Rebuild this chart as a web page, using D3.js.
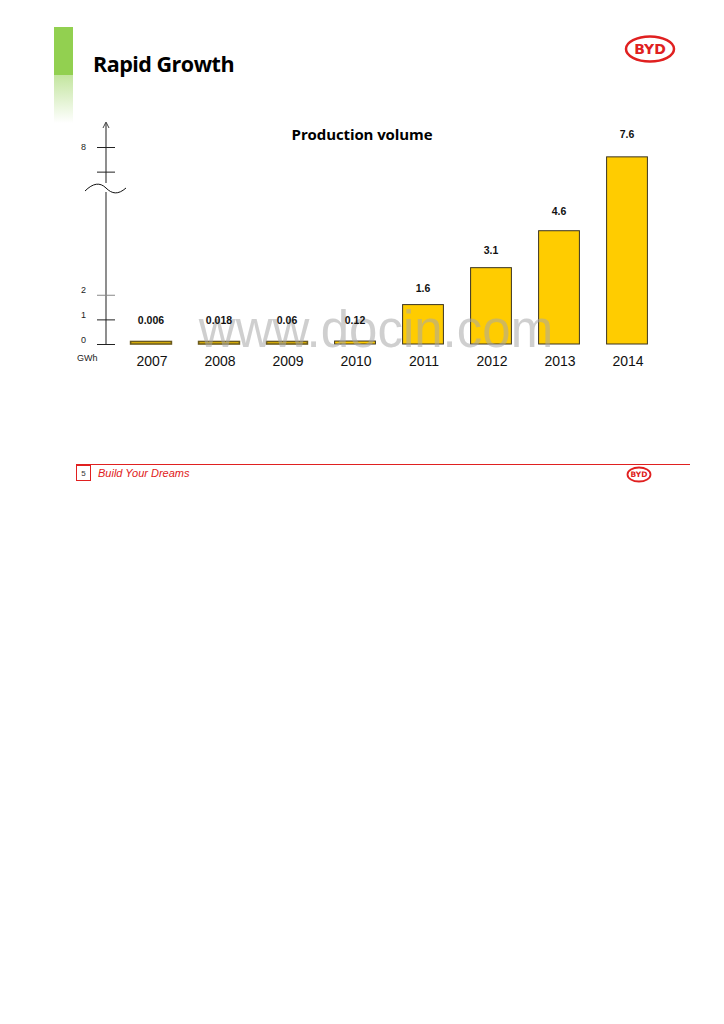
<!DOCTYPE html>
<html lang="en">
<head>
<meta charset="UTF-8">
<title>Rapid Growth</title>
<script src="https://cdn.jsdelivr.net/npm/d3@7"></script>
<style>
  body { margin: 0; background: #fff; }
</style>
</head>
<body>
<div id="chart"></div>
<script>
const years = ["2007", "2008", "2009", "2010", "2011", "2012", "2013", "2014"];
const volume = [0.006, 0.018, 0.06, 0.12, 1.6, 3.1, 4.6, 7.6];
const volumeLabels = ["0.006", "0.018", "0.06", "0.12", "1.6", "3.1", "4.6", "7.6"];
const axisTicks = [0, 1, 2, 7, 8];
const axisTickLabels = {0: "0", 1: "1", 2: "2", 8: "8"};

const width = 724, height = 1024;
const baseY = 344, axisX = 106;

const svg = d3.select("#chart").append("svg")
    .attr("width", width)
    .attr("height", height);

// green header accent
const grad = svg.append("defs").append("linearGradient")
    .attr("id", "fade").attr("x1", 0).attr("x2", 0).attr("y1", 0).attr("y2", 1);
grad.append("stop").attr("offset", "0%").attr("stop-color", "#92d050").attr("stop-opacity", 0.55);
grad.append("stop").attr("offset", "100%").attr("stop-color", "#92d050").attr("stop-opacity", 0);
svg.append("rect").attr("x", 54).attr("y", 27).attr("width", 19).attr("height", 48).attr("fill", "#92d050");
svg.append("rect").attr("x", 54).attr("y", 75).attr("width", 19).attr("height", 48).attr("fill", "url(#fade)");

svg.append("text")
    .attr("x", 93).attr("y", 72)
    .attr("font-family", "Open Sans, sans-serif")
    .attr("font-weight", "bold")
    .attr("font-size", 21.5)
    .attr("letter-spacing", -0.5)
    .attr("fill", "#000")
    .text("Rapid Growth");

// logo
function logo(cx, cy, rx, ry, fs, sw) {
  const g = svg.append("g");
  g.append("ellipse").attr("cx", cx).attr("cy", cy).attr("rx", rx).attr("ry", ry)
      .attr("fill", "none").attr("stroke", "#e02020").attr("stroke-width", sw);
  g.append("text").attr("x", cx).attr("y", cy + fs * 0.36)
      .attr("text-anchor", "middle")
      .attr("font-family", "DejaVu Sans, sans-serif")
      .attr("font-weight", "bold")
      .attr("font-size", fs)
      .attr("fill", "#e02020")
      .text("BYD");
}
logo(650, 49, 24, 12.5, 14, 2.5);

// scales
const x = d3.scaleBand()
    .domain(years)
    .range([117, 661])
    .paddingInner(0.4)
    .paddingOuter(0.2);

const y = d3.scaleLinear()
    .domain([0, 8])
    .range([baseY, 147]);

// chart title
svg.append("text")
    .attr("x", 362).attr("y", 140)
    .attr("text-anchor", "middle")
    .attr("font-family", "Open Sans, sans-serif")
    .attr("font-weight", "bold")
    .attr("font-size", 15)
    .attr("letter-spacing", -0.1)
    .text("Production volume");

// y axis
svg.append("line")
    .attr("x1", axisX).attr("x2", axisX)
    .attr("y1", y(0)).attr("y2", 123)
    .attr("stroke", "#444").attr("stroke-width", 1.2);
svg.append("path")
    .attr("d", `M${axisX - 3},${128} L${axisX},${122} L${axisX + 3},${128}`)
    .attr("fill", "none").attr("stroke", "#444").attr("stroke-width", 1);

svg.append("g")
    .attr("transform", `translate(${axisX + 9},0)`)
    .call(d3.axisLeft(y).tickValues(axisTicks).tickSize(18).tickPadding(26)
        .tickFormat(d => axisTickLabels[d] || ""))
    .call(g => g.select(".domain").remove())
    .call(g => g.selectAll(".tick line").attr("stroke", (d) => d === 2 ? "#888" : "#222"))
    .call(g => g.selectAll(".tick text")
        .attr("text-anchor", "start")
        .attr("x", -34)
        .attr("font-family", "Liberation Sans, Arial, sans-serif")
        .attr("font-size", 9)
        .attr("dy", d => d === 8 ? "0.3em" : "-0.2em")
        .attr("fill", "#222"));

// axis break
svg.append("rect").attr("x", axisX - 3).attr("y", 183).attr("width", 6).attr("height", 9).attr("fill", "#fff");
svg.append("path")
    .attr("d", "M85,191 C93,183 100,182 106,188 C112,194 118,195 126,188")
    .attr("fill", "none").attr("stroke", "#111").attr("stroke-width", 1);

svg.append("text")
    .attr("x", 77).attr("y", 361)
    .attr("font-family", "Liberation Sans, Arial, sans-serif")
    .attr("font-size", 9)
    .attr("fill", "#222")
    .text("GWh");

// watermark (sits under the marks' labels, over the bars as in the scan)
const bars = years.map((yr, i) => ({year: yr, value: volume[i], label: volumeLabels[i]}));

svg.append("g")
    .selectAll("rect")
    .data(bars)
    .join("rect")
    .attr("x", d => x(d.year))
    .attr("width", x.bandwidth())
    .attr("y", d => Math.min(y(d.value), baseY - 2.5))
    .attr("height", d => Math.max(baseY - y(d.value), 2.5))
    .attr("fill", "#ffcc00")
    .attr("stroke", d => d.value < 0.1 ? "#6b5a1e" : "#3a3320")
    .attr("stroke-width", d => d.value < 0.1 ? 1.6 : 1);

svg.append("text")
    .attr("x", 376).attr("y", 347)
    .attr("text-anchor", "middle")
    .attr("font-family", "Liberation Sans, Arial, sans-serif")
    .attr("font-size", 51)
    .attr("fill", "#a8a8a8")
    .attr("fill-opacity", 0.55)
    .text("www.docin.com");

svg.append("g")
    .selectAll("text")
    .data(bars)
    .join("text")
    .attr("x", d => x(d.year) + x.bandwidth() / 2)
    .attr("y", d => Math.min(y(d.value) - (11 + d.value), baseY - 20))
    .attr("text-anchor", "middle")
    .attr("font-family", "Liberation Sans, Arial, sans-serif")
    .attr("font-weight", "bold")
    .attr("font-size", 10.5)
    .attr("fill", "#111")
    .text(d => d.label);

svg.append("g")
    .selectAll("text")
    .data(years)
    .join("text")
    .attr("x", d => x(d) + x.bandwidth() / 2 + 1)
    .attr("y", 366)
    .attr("text-anchor", "middle")
    .attr("font-family", "Liberation Sans, Arial, sans-serif")
    .attr("font-size", 14)
    .attr("fill", "#111")
    .text(d => d);

// footer
svg.append("line")
    .attr("x1", 76).attr("x2", 690)
    .attr("y1", 464.5).attr("y2", 464.5)
    .attr("stroke", "#e02020").attr("stroke-width", 1);
svg.append("rect")
    .attr("x", 76.5).attr("y", 465.5).attr("width", 14).attr("height", 15)
    .attr("fill", "none").attr("stroke", "#e02020").attr("stroke-width", 1);
svg.append("text")
    .attr("x", 83.5).attr("y", 476)
    .attr("text-anchor", "middle")
    .attr("font-family", "Liberation Sans, Arial, sans-serif")
    .attr("font-size", 8)
    .attr("fill", "#333")
    .text("5");
svg.append("text")
    .attr("x", 98).attr("y", 477)
    .attr("font-family", "Liberation Sans, Arial, sans-serif")
    .attr("font-style", "italic")
    .attr("font-size", 11)
    .attr("fill", "#e02020")
    .text("Build Your Dreams");
logo(639, 474.5, 11.5, 7, 7.5, 1.8);
</script>
</body>
</html>
